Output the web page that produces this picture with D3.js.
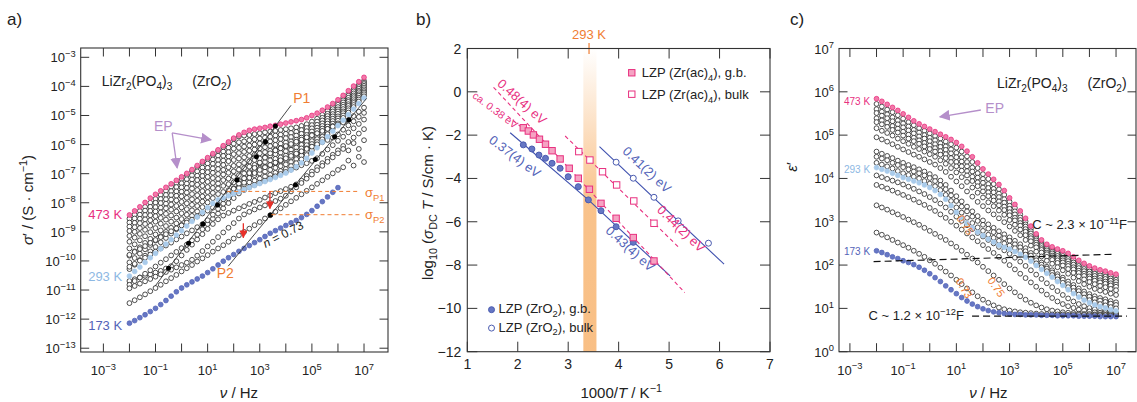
<!DOCTYPE html>
<html><head><meta charset="utf-8">
<script src="https://cdn.jsdelivr.net/npm/d3@7"></script>
<style>
body{margin:0;background:#fff;}
svg{font-family:"Liberation Sans",Arial,sans-serif;}
</style></head><body>
<svg id="fig" width="1137" height="402"></svg>
<script>
// shared frequency grid (log10 of nu / Hz)
var nuLog = [-2,-1.8,-1.6,-1.4,-1.2,-1,-0.8,-0.6,-0.4,-0.2,0,0.2,0.4,0.6,0.8,1,1.2,1.4,1.6,1.8,2,2.2,2.4,2.6,2.8,3,3.2,3.4,3.6,3.8,4,4.2,4.4,4.6,4.8,5,5.2,5.4,5.6,5.8,6,6.2,6.4,6.6,6.8,7];

// panel a: log10 sigma' (S/cm)
var sigma473 = [-8.42,-8.28,-8.14,-7.99,-7.84,-7.71,-7.59,-7.47,-7.35,-7.23,-7.11,-6.99,-6.86,-6.72,-6.58,-6.45,-6.31,-6.18,-6.04,-5.91,-5.78,-5.67,-5.58,-5.51,-5.47,-5.44,-5.41,-5.37,-5.34,-5.30,-5.26,-5.22,-5.18,-5.14,-5.08,-5.00,-4.92,-4.82,-4.71,-4.59,-4.46,-4.31,-4.15,-3.99,-3.84,-3.69];
var sigma293 = [-10.52,-10.36,-10.21,-10.05,-9.89,-9.74,-9.58,-9.42,-9.27,-9.11,-8.96,-8.80,-8.64,-8.49,-8.33,-8.17,-8.02,-7.90,-7.83,-7.76,-7.69,-7.62,-7.55,-7.48,-7.41,-7.34,-7.27,-7.20,-7.13,-7.06,-6.98,-6.88,-6.76,-6.63,-6.47,-6.29,-6.11,-5.92,-5.73,-5.54,-5.35,-5.16,-4.97,-4.78,-4.59,-4.40];
var sigma173 = [-12.14,-12.05,-11.95,-11.85,-11.74,-11.63,-11.50,-11.36,-11.21,-11.06,-10.93,-10.82,-10.72,-10.62,-10.52,-10.40,-10.27,-10.14,-10.01,-9.89,-9.78,-9.67,-9.57,-9.47,-9.37,-9.27,-9.16,-9.05,-8.96,-8.87,-8.78,-8.69,-8.61,-8.51,-8.40,-8.27,-8.12,-7.96,-7.80,-7.64,-7.48,null,null,null,null,null];
var sigmaOther = [
 [-8.55,-8.41,-8.28,-8.14,-8.00,-7.87,-7.73,-7.59,-7.45,-7.32,-7.18,-7.05,-6.91,-6.77,-6.63,-6.50,-6.36,-6.22,-6.09,-5.95,-5.81,-5.72,-5.69,-5.67,-5.64,-5.61,-5.58,-5.55,-5.53,-5.50,-5.47,-5.44,-5.41,-5.36,-5.30,-5.21,-5.11,-4.98,-4.84,-4.70,-4.55,-4.40,-4.25,-4.10,-3.95,-3.81],
 [-8.68,-8.54,-8.41,-8.27,-8.14,-8.00,-7.87,-7.73,-7.60,-7.46,-7.33,-7.19,-7.06,-6.92,-6.79,-6.65,-6.51,-6.38,-6.24,-6.11,-5.97,-5.92,-5.89,-5.85,-5.82,-5.79,-5.76,-5.73,-5.69,-5.66,-5.63,-5.60,-5.56,-5.50,-5.43,-5.33,-5.21,-5.08,-4.94,-4.78,-4.63,-4.48,-4.32,-4.17,-4.02,-3.87],
 [-8.82,-8.69,-8.55,-8.42,-8.28,-8.15,-8.01,-7.88,-7.74,-7.61,-7.47,-7.34,-7.20,-7.07,-6.93,-6.80,-6.66,-6.53,-6.39,-6.26,-6.14,-6.11,-6.07,-6.03,-6.00,-5.96,-5.92,-5.89,-5.85,-5.81,-5.78,-5.74,-5.69,-5.63,-5.54,-5.44,-5.32,-5.17,-5.02,-4.86,-4.71,-4.55,-4.39,-4.24,-4.08,-3.92],
 [-8.97,-8.84,-8.70,-8.57,-8.43,-8.30,-8.17,-8.03,-7.89,-7.76,-7.62,-7.49,-7.35,-7.22,-7.08,-6.95,-6.82,-6.68,-6.55,-6.41,-6.33,-6.29,-6.25,-6.21,-6.17,-6.13,-6.09,-6.05,-6.01,-5.97,-5.93,-5.89,-5.83,-5.76,-5.67,-5.55,-5.42,-5.27,-5.11,-4.95,-4.79,-4.63,-4.47,-4.31,-4.15,-3.98],
 [-9.14,-9.00,-8.87,-8.73,-8.60,-8.46,-8.33,-8.19,-8.06,-7.92,-7.78,-7.65,-7.51,-7.38,-7.24,-7.11,-6.97,-6.84,-6.70,-6.57,-6.53,-6.48,-6.44,-6.39,-6.35,-6.30,-6.26,-6.21,-6.17,-6.12,-6.08,-6.03,-5.97,-5.88,-5.78,-5.66,-5.52,-5.36,-5.19,-5.03,-4.86,-4.70,-4.53,-4.37,-4.20,-4.04],
 [-9.34,-9.20,-9.07,-8.93,-8.79,-8.65,-8.52,-8.38,-8.24,-8.11,-7.97,-7.83,-7.70,-7.56,-7.42,-7.28,-7.15,-7.01,-6.87,-6.78,-6.73,-6.68,-6.63,-6.58,-6.53,-6.48,-6.43,-6.38,-6.33,-6.28,-6.23,-6.18,-6.10,-6.01,-5.90,-5.77,-5.62,-5.45,-5.28,-5.11,-4.94,-4.78,-4.61,-4.44,-4.27,-4.10],
 [-9.57,-9.43,-9.29,-9.15,-9.01,-8.87,-8.72,-8.58,-8.44,-8.30,-8.16,-8.02,-7.88,-7.74,-7.60,-7.46,-7.32,-7.18,-7.03,-6.97,-6.92,-6.86,-6.81,-6.76,-6.70,-6.65,-6.60,-6.54,-6.49,-6.44,-6.38,-6.32,-6.24,-6.13,-6.02,-5.88,-5.71,-5.55,-5.38,-5.19,-5.03,-4.86,-4.67,-4.51,-4.32,-4.16],
 [-9.82,-9.67,-9.53,-9.38,-9.24,-9.09,-8.95,-8.80,-8.65,-8.51,-8.36,-8.22,-8.07,-7.93,-7.78,-7.63,-7.49,-7.34,-7.22,-7.17,-7.11,-7.05,-6.99,-6.94,-6.88,-6.82,-6.76,-6.71,-6.65,-6.59,-6.53,-6.46,-6.37,-6.26,-6.13,-5.98,-5.81,-5.63,-5.46,-5.28,-5.10,-4.92,-4.75,-4.57,-4.39,-4.21],
 [-10.05,-9.90,-9.75,-9.60,-9.45,-9.30,-9.15,-9.00,-8.86,-8.71,-8.56,-8.41,-8.26,-8.11,-7.96,-7.81,-7.66,-7.51,-7.42,-7.36,-7.30,-7.24,-7.18,-7.11,-7.05,-6.99,-6.93,-6.87,-6.80,-6.74,-6.68,-6.60,-6.50,-6.38,-6.24,-6.08,-5.91,-5.73,-5.55,-5.36,-5.18,-5.00,-4.82,-4.64,-4.45,-4.27],
 [-10.28,-10.13,-9.97,-9.82,-9.67,-9.52,-9.36,-9.21,-9.06,-8.91,-8.76,-8.60,-8.45,-8.30,-8.15,-7.99,-7.84,-7.70,-7.63,-7.57,-7.50,-7.43,-7.37,-7.30,-7.24,-7.17,-7.10,-7.04,-6.97,-6.91,-6.84,-6.74,-6.64,-6.51,-6.36,-6.19,-6.01,-5.82,-5.64,-5.45,-5.27,-5.08,-4.90,-4.71,-4.52,-4.34],
 [-11.45,-11.35,-11.25,-11.15,-11.04,-10.93,-10.82,-10.70,-10.59,-10.48,-10.36,-10.25,-10.14,-10.02,-9.91,-9.80,-9.68,-9.57,-9.46,-9.34,-9.23,-9.12,-9.00,-8.89,-8.77,-8.66,-8.54,-8.43,-8.31,-8.19,-8.07,-7.95,-7.83,-7.71,-7.59,-7.47,-7.35,-7.23,-7.11,-6.99,-6.87,-6.78,-6.55,-6.72,-6.42,-6.60],
 [-10.69,-10.63,-10.57,-10.51,-10.46,-10.40,-10.34,-10.26,-10.18,-10.01,-9.81,-9.62,-9.44,-9.26,-9.08,-8.90,-8.73,-8.57,-8.44,-8.35,-8.27,-8.19,-8.12,-8.04,-7.97,-7.90,-7.82,-7.75,-7.67,-7.60,-7.53,-7.45,-7.37,-7.24,-7.08,-6.93,-6.78,-6.64,-6.49,-6.35,-6.20,-6.05,-5.91,-5.76,-5.62,-5.47],
 [-10.82,-10.69,-10.57,-10.44,-10.32,-10.19,-10.06,-9.94,-9.81,-9.69,-9.56,-9.44,-9.29,-9.10,-8.91,-8.73,-8.55,-8.37,-8.19,-8.01,-7.84,-7.68,-7.56,-7.47,-7.39,-7.31,-7.24,-7.16,-7.09,-7.01,-6.94,-6.86,-6.79,-6.71,-6.64,-6.56,-6.47,-6.32,-6.17,-6.02,-5.87,-5.73,-5.58,-5.44,-5.29,-5.14],
 [-10.20,-10.10,-9.99,-9.89,-9.78,-9.68,-9.57,-9.47,-9.37,-9.26,-9.16,-9.05,-8.95,-8.84,-8.74,-8.60,-8.41,-8.21,-8.03,-7.85,-7.67,-7.49,-7.31,-7.14,-6.98,-6.87,-6.78,-6.70,-6.62,-6.54,-6.47,-6.39,-6.31,-6.23,-6.15,-6.07,-5.99,-5.92,-5.84,-5.76,-5.65,-5.49,-5.34,-5.20,-5.05,-4.91],
 [-9.79,-9.69,-9.59,-9.49,-9.38,-9.28,-9.18,-9.08,-8.98,-8.88,-8.78,-8.68,-8.58,-8.47,-8.37,-8.27,-8.17,-8.05,-7.88,-7.70,-7.52,-7.34,-7.16,-6.98,-6.80,-6.62,-6.45,-6.30,-6.20,-6.13,-6.05,-5.98,-5.90,-5.83,-5.75,-5.68,-5.61,-5.53,-5.46,-5.38,-5.31,-5.24,-5.16,-5.02,-4.87,-4.73],
 [-10.94,-10.86,-10.78,-10.70,-10.62,-10.54,-10.46,-10.38,-10.30,-10.22,-10.14,-10.06,-9.96,-9.82,-9.66,-9.50,-9.34,-9.18,-9.02,-8.86,-8.70,-8.54,-8.40,-8.31,-8.23,-8.16,-8.09,-8.01,-7.94,-7.86,-7.76,-7.61,-7.47,-7.32,-7.17,-7.03,-6.88,-6.73,-6.59,-6.44,-6.30,-6.15,-6.20,-5.95,-6.15,-5.85]
];
// characteristic points (log nu, log sigma)
var p1Dots = [[-0.5,-10.25],[0.27,-9.39],[0.82,-8.73],[1.38,-8.08],[2.13,-7.22],[2.87,-6.42],[3.22,-5.9],[3.6,-5.36]];
var p2Dots = [[3.41,-8.42],[4.37,-7.39],[5.13,-6.51],[5.87,-5.73],[6.42,-5.15]];
var p1Line = [[-1.02,-10.87],[4.2,-4.65]];
var p2Line = [[1.79,-10.18],[7.1,-4.41]];

// panel b: (1000/T, log10 sigma_DC T)
var gbZrO2 = [[2.11,-2.45],[2.28,-2.64],[2.42,-2.92],[2.55,-3.07],[2.68,-3.30],[2.84,-3.53],[3.00,-3.92],[3.20,-4.38],[3.40,-4.99],[3.65,-5.49],[3.95,-6.23],[4.29,-6.95],[4.70,-7.85]];
var bulkZrO2 = [[3.95,-3.25],[4.29,-3.99],[4.70,-4.87],[5.18,-5.96],[5.78,-6.99]];
var gbZrAc = [[2.11,-1.66],[2.21,-1.81],[2.31,-1.99],[2.43,-2.19],[2.55,-2.42],[2.68,-2.72],[2.84,-3.10],[3.02,-3.53],[3.20,-3.99],[3.42,-4.50],[3.65,-5.15],[3.95,-5.84],[4.29,-6.73],[4.70,-7.81]];
var bulkZrAc = [[3.21,-2.76],[3.43,-3.15],[3.68,-3.69],[3.96,-4.30],[4.30,-5.04],[4.70,-6.07]];
var fitBlue = [[[1.85,-1.89],[3.40,-4.99]],[[3.40,-4.99],[5.02,-8.5]],[[3.62,-2.53],[6.09,-7.96]]];
var fitPink = [[[1.52,0.21],[5.31,-9.27]],[[1.80,-1.12],[2.15,-1.78]],[[2.94,-2.04],[5.2,-7.2]]];

// panel c: log10 eps'
var eps473 = [5.84,5.78,5.71,5.64,5.57,5.49,5.41,5.33,5.26,5.20,5.14,5.08,5.02,4.96,4.90,4.83,4.74,4.63,4.50,4.36,4.22,4.10,3.98,3.86,3.72,3.55,3.40,3.25,3.08,2.90,2.72,2.58,2.48,2.42,2.37,2.33,2.27,2.19,2.11,2.04,1.98,1.93,1.89,1.86,1.82,1.79];
var eps293 = [4.25,4.21,4.17,4.12,4.07,4.02,3.98,3.94,3.90,3.85,3.79,3.72,3.63,3.52,3.37,3.22,3.09,2.97,2.86,2.76,2.68,2.60,2.53,2.46,2.41,2.37,2.31,2.25,2.18,2.09,1.99,1.90,1.81,1.72,1.62,1.53,1.43,1.34,1.26,1.19,1.13,1.08,1.04,1.01,0.97,0.94];
var eps173 = [2.33,2.29,2.24,2.19,2.15,2.10,2.06,2.01,1.95,1.88,1.80,1.71,1.62,1.52,1.43,1.34,1.25,1.17,1.10,1.04,0.99,0.95,0.92,0.90,0.88,0.87,0.86,0.86,0.85,0.85,0.85,0.84,0.84,0.84,0.83,0.83,0.83,0.83,0.82,0.82,0.82,0.82,0.81,0.81,0.81,0.81];
var epsOther = [
 [5.72,5.66,5.59,5.53,5.46,5.38,5.30,5.23,5.16,5.10,5.04,4.98,4.92,4.85,4.79,4.71,4.62,4.51,4.38,4.24,4.10,3.99,3.87,3.75,3.62,3.46,3.32,3.17,3.01,2.84,2.67,2.53,2.43,2.37,2.31,2.27,2.21,2.13,2.05,1.98,1.92,1.87,1.83,1.80,1.76,1.73],
 [5.60,5.54,5.48,5.41,5.34,5.27,5.20,5.12,5.06,5.00,4.94,4.88,4.81,4.74,4.67,4.59,4.49,4.38,4.25,4.12,3.99,3.87,3.76,3.65,3.52,3.37,3.24,3.10,2.94,2.78,2.61,2.48,2.38,2.31,2.26,2.21,2.14,2.06,1.98,1.91,1.85,1.80,1.76,1.73,1.69,1.66],
 [5.51,5.45,5.39,5.32,5.25,5.18,5.11,5.04,4.97,4.92,4.86,4.79,4.73,4.66,4.58,4.49,4.39,4.28,4.16,4.02,3.90,3.78,3.68,3.57,3.44,3.30,3.17,3.04,2.89,2.73,2.57,2.44,2.34,2.27,2.21,2.16,2.09,2.01,1.93,1.86,1.80,1.75,1.71,1.68,1.64,1.61],
 [5.39,5.34,5.28,5.21,5.15,5.08,5.01,4.94,4.88,4.82,4.76,4.70,4.63,4.56,4.47,4.38,4.28,4.17,4.04,3.91,3.79,3.68,3.57,3.47,3.35,3.22,3.09,2.97,2.83,2.67,2.52,2.39,2.29,2.22,2.16,2.11,2.03,1.95,1.87,1.80,1.74,1.69,1.65,1.62,1.58,1.55],
 [5.30,5.25,5.19,5.12,5.06,4.99,4.92,4.86,4.80,4.74,4.68,4.62,4.55,4.47,4.38,4.28,4.18,4.07,3.94,3.82,3.70,3.59,3.49,3.38,3.27,3.15,3.03,2.91,2.77,2.62,2.47,2.35,2.25,2.18,2.11,2.06,1.98,1.90,1.82,1.75,1.69,1.64,1.60,1.57,1.53,1.50],
 [5.16,5.10,5.05,4.99,4.92,4.86,4.80,4.73,4.68,4.62,4.56,4.50,4.42,4.34,4.24,4.14,4.03,3.92,3.79,3.67,3.56,3.45,3.36,3.26,3.16,3.04,2.93,2.82,2.69,2.55,2.41,2.29,2.19,2.12,2.05,1.99,1.91,1.82,1.74,1.67,1.61,1.56,1.52,1.49,1.45,1.42],
 [4.95,4.90,4.85,4.79,4.73,4.67,4.61,4.55,4.50,4.44,4.38,4.32,4.24,4.15,4.04,3.93,3.82,3.70,3.58,3.46,3.36,3.26,3.17,3.08,2.99,2.89,2.79,2.69,2.58,2.45,2.31,2.20,2.10,2.03,1.95,1.88,1.80,1.71,1.63,1.56,1.50,1.45,1.41,1.38,1.34,1.31],
 [4.62,4.57,4.52,4.47,4.41,4.36,4.31,4.26,4.21,4.16,4.10,4.03,3.95,3.85,3.72,3.59,3.47,3.35,3.24,3.13,3.03,2.94,2.86,2.78,2.71,2.64,2.56,2.48,2.39,2.28,2.16,2.06,1.96,1.88,1.79,1.71,1.62,1.54,1.46,1.39,1.33,1.28,1.24,1.21,1.17,1.14],
 [4.50,4.46,4.42,4.36,4.31,4.26,4.21,4.16,4.12,4.07,4.01,3.94,3.85,3.75,3.61,3.48,3.35,3.24,3.12,3.02,2.93,2.84,2.76,2.68,2.62,2.56,2.48,2.41,2.32,2.22,2.11,2.01,1.92,1.83,1.74,1.66,1.56,1.48,1.40,1.33,1.27,1.22,1.18,1.15,1.11,1.08],
 [4.36,4.32,4.28,4.23,4.17,4.12,4.08,4.04,4.00,3.94,3.88,3.82,3.73,3.62,3.48,3.33,3.21,3.09,2.97,2.87,2.79,2.70,2.63,2.56,2.50,2.45,2.39,2.32,2.24,2.15,2.04,1.95,1.86,1.77,1.67,1.59,1.49,1.40,1.32,1.25,1.19,1.14,1.10,1.07,1.03,1.00],
 [4.07,4.03,3.99,3.95,3.91,3.86,3.81,3.76,3.70,3.64,3.57,3.50,3.42,3.33,3.23,3.12,3.02,2.92,2.83,2.74,2.66,2.58,2.50,2.42,2.34,2.26,2.17,2.08,1.98,1.88,1.78,1.68,1.58,1.49,1.40,1.31,1.23,1.16,1.10,1.05,1.01,0.98,0.95,0.93,0.91,0.90],
 [3.85,3.81,3.77,3.72,3.67,3.62,3.57,3.51,3.45,3.39,3.32,3.25,3.17,3.09,3.00,2.91,2.82,2.73,2.64,2.55,2.46,2.37,2.28,2.19,2.10,2.00,1.90,1.80,1.70,1.60,1.50,1.41,1.32,1.24,1.16,1.10,1.05,1.01,0.97,0.95,0.93,0.91,0.90,0.89,0.88,0.87],
 [3.38,3.33,3.28,3.22,3.17,3.11,3.05,2.99,2.93,2.86,2.79,2.72,2.65,2.58,2.50,2.42,2.33,2.24,2.15,2.06,1.96,1.86,1.76,1.66,1.56,1.46,1.37,1.28,1.20,1.13,1.07,1.02,0.98,0.95,0.93,0.91,0.90,0.89,0.88,0.87,0.87,0.86,0.86,0.85,0.85,0.85],
 [2.75,2.70,2.64,2.58,2.52,2.46,2.40,2.33,2.26,2.19,2.11,2.03,1.94,1.85,1.76,1.66,1.56,1.46,1.37,1.28,1.20,1.13,1.07,1.02,0.98,0.95,0.93,0.91,0.90,0.89,0.88,0.87,0.87,0.86,0.86,0.86,0.85,0.85,0.85,0.85,0.84,0.84,0.84,0.84,0.83,0.83]
];

var decA = [-3,-2,-1,0,1,2,3,4,5,6,7];
var decAy = [-13,-12,-11,-10,-9,-8,-7,-6,-5,-4,-3];
var labA = [-3,-1,1,3,5,7];
var decCy = [0,1,2,3,4,5,6,7];
var ticksBx = [1,2,3,4,5,6,7];
var ticksBy = [-12,-10,-8,-6,-4,-2,0,2];

var PINK = '#e8307f', PINKF = '#f27aa9', LBLUE = '#8db8e3', LBLUEF = '#a9cbeb',
    BLUE = '#5363b8', BLUEF = '#6677c4', ORANGE = '#f07d32', PURPLE = '#b58fca', RED = '#e8302a';

var svg = d3.select('#fig');
var defs = svg.append('defs');
function marker(id, color, size) {
  defs.append('marker').attr('id', id).attr('viewBox', '0 0 10 10').attr('refX', 9).attr('refY', 5)
    .attr('markerWidth', size).attr('markerHeight', size).attr('markerUnits', 'userSpaceOnUse')
    .attr('orient', 'auto').append('path').attr('d', 'M0,0 L10,5 L0,10 z').attr('fill', color);
}
marker('arrP', PURPLE, 11);
marker('arrR', RED, 8);

function p10(v) { return Math.pow(10, v); }

// parts: [text, kind, dx]; kind '' | 'sub' | 'sup' | 'i'
function rich(text, parts, fs) {
  var cur = 0;
  parts.forEach(function(p) {
    var ts = text.append('tspan').text(p[0]);
    var tgt = p[1] === 'sub' ? fs * 0.28 : p[1] === 'sup' ? -fs * 0.42 : 0;
    if (tgt !== cur) ts.attr('dy', tgt - cur);
    cur = tgt;
    if (p[2]) ts.attr('dx', p[2]);
    if (p[1] === 'sub' || p[1] === 'sup') ts.attr('font-size', fs * 0.72);
    if (p[1] === 'i') ts.attr('font-style', 'italic');
  });
  return text;
}
function expStr(e) { return e < 0 ? '\u2212' + (-e) : '' + e; }

function frame(g, xs, ys) {
  var xr = xs.range(), yr = ys.range();
  g.append('rect').attr('x', xr[0]).attr('y', yr[1]).attr('width', xr[1] - xr[0]).attr('height', yr[0] - yr[1])
    .attr('fill', 'none').attr('stroke', '#333').attr('stroke-width', 1.1);
}
function ticksX(g, xs, ys, vals, len) {
  var yr = ys.range();
  vals.forEach(function(v) {
    var x = xs(v);
    g.append('line').attr('x1', x).attr('x2', x).attr('y1', yr[0]).attr('y2', yr[0] - len).attr('stroke', '#333');
    g.append('line').attr('x1', x).attr('x2', x).attr('y1', yr[1]).attr('y2', yr[1] + len).attr('stroke', '#333');
  });
}
function ticksY(g, xs, ys, vals, len) {
  var xr = xs.range();
  vals.forEach(function(v) {
    var y = ys(v);
    g.append('line').attr('x1', xr[0]).attr('x2', xr[0] + len).attr('y1', y).attr('y2', y).attr('stroke', '#333');
    g.append('line').attr('x1', xr[1]).attr('x2', xr[1] - len).attr('y1', y).attr('y2', y).attr('stroke', '#333');
  });
}
function logLabelsX(g, xs, ys, exps) {
  exps.forEach(function(e) {
    var t = g.append('text').attr('x', xs(p10(e))).attr('y', ys.range()[0] + 23).attr('text-anchor', 'middle')
      .attr('font-size', 13).attr('fill', '#222');
    rich(t, [['10', ''], [expStr(e), 'sup']], 13);
  });
}
function logLabelsY(g, xs, ys, exps) {
  exps.forEach(function(e) {
    var t = g.append('text').attr('x', xs.range()[0] - 5).attr('y', ys(p10(e)) + 5).attr('text-anchor', 'end')
      .attr('font-size', 13).attr('fill', '#222');
    rich(t, [['10', ''], [expStr(e), 'sup']], 13);
  });
}
function series(g, xs, ys, arr, fill, stroke) {
  var data = nuLog.map(function(v, i) { return [v, arr[i]]; }).filter(function(d) { return d[1] !== null; });
  g.append('g').selectAll('circle').data(data).enter().append('circle')
    .attr('cx', function(d) { return xs(p10(d[0])); })
    .attr('cy', function(d) { return ys(p10(d[1])); })
    .attr('r', 2.4).attr('fill', fill).attr('stroke', stroke).attr('stroke-width', 0.8);
}
function label(g, x, y, parts, fs, color, anchor, rot) {
  var t = g.append('text').attr('font-size', fs).attr('fill', color).attr('text-anchor', anchor || 'start');
  if (rot) t.attr('transform', 'translate(' + x + ',' + y + ') rotate(' + rot + ')');
  else t.attr('x', x).attr('y', y);
  return rich(t, parts, fs);
}
var formula = [['LiZr', ''], ['2', 'sub'], ['(PO', ''], ['4', 'sub'], [')', ''], ['3', 'sub'], ['(ZrO', '', 20], ['2', 'sub'], [')', '']];

// ---------------- panel a ----------------
var gA = svg.append('g');
var xA = d3.scaleLog().domain([p10(-3.87), p10(7.92)]).range([80.7, 388]);
var yA = d3.scaleLog().domain([p10(-13.13), p10(-2.68)]).range([352, 48]);
function ax(v) { return xA(p10(v)); }
function ay(v) { return yA(p10(v)); }

sigmaOther.forEach(function(s) { series(gA, xA, yA, s, '#fff', '#222'); });
series(gA, xA, yA, sigma173, BLUEF, BLUE);
series(gA, xA, yA, sigma293, LBLUEF, LBLUEF);
series(gA, xA, yA, sigma473, PINKF, PINK);

[p1Line, p2Line].forEach(function(l) {
  gA.append('line').attr('x1', ax(l[0][0])).attr('y1', ay(l[0][1])).attr('x2', ax(l[1][0])).attr('y2', ay(l[1][1]))
    .attr('stroke', '#333').attr('stroke-width', 0.9);
});
gA.selectAll('circle.pd').data(p1Dots.concat(p2Dots)).enter().append('circle').attr('class', 'pd')
  .attr('cx', function(d) { return ax(d[0]); }).attr('cy', function(d) { return ay(d[1]); })
  .attr('r', 2.5).attr('fill', '#000');

// sigma_P dashed levels
[[1.75, -7.61], [3.45, -8.41]].forEach(function(d) {
  gA.append('line').attr('x1', ax(d[0])).attr('x2', ax(6.84)).attr('y1', ay(d[1])).attr('y2', ay(d[1]))
    .attr('stroke', ORANGE).attr('stroke-dasharray', '4,3').attr('stroke-width', 1);
});
label(gA, ax(7.04), ay(-7.80), [['\u03c3', ''], ['P1', 'sub']], 13, ORANGE);
label(gA, ax(7.04), ay(-8.56), [['\u03c3', ''], ['P2', 'sub']], 13, ORANGE);
[[3.39, -7.60, -8.20], [2.37, -8.70, -9.20]].forEach(function(d) {
  gA.append('line').attr('x1', ax(d[0])).attr('x2', ax(d[0])).attr('y1', ay(d[1])).attr('y2', ay(d[2]))
    .attr('stroke', RED).attr('stroke-width', 1.3).attr('marker-end', 'url(#arrR)');
});
label(gA, ax(4.28), ay(-4.57), [['P1', '']], 14, ORANGE);
label(gA, ax(1.35), ay(-10.58), [['P2', '']], 14, ORANGE);
label(gA, ax(3.97), ay(-9.21), [['n', 'i'], [' = 0.73', '']], 12, '#222', 'middle', -27);

label(gA, ax(-1.06), ay(-5.53), [['EP', '']], 14, PURPLE);
[[1.13, -5.84], [-0.17, -6.80]].forEach(function(h) {
  gA.append('line').attr('x1', ax(-0.36)).attr('y1', ay(-5.60)).attr('x2', ax(h[0])).attr('y2', ay(h[1]))
    .attr('stroke', PURPLE).attr('stroke-width', 1.3).attr('marker-end', 'url(#arrP)');
});
label(gA, ax(-3.06), ay(-3.99), formula, 14, '#222');
label(gA, ax(-2.28), ay(-8.55), [['473 K', '']], 13, PINK, 'end');
label(gA, ax(-2.28), ay(-10.68), [['293 K', '']], 13, LBLUE, 'end');
label(gA, ax(-2.28), ay(-12.37), [['173 K', '']], 13, BLUE, 'end');

frame(gA, xA, yA);
ticksX(gA, xA, yA, decA.map(p10), 8.5);
ticksY(gA, xA, yA, decAy.map(p10), 8.5);
logLabelsX(gA, xA, yA, labA);
logLabelsY(gA, xA, yA, decAy);
label(gA, 33, 200, [['\u03c3', 'i'], ['\u2032 / (S \u00b7 cm', ''], ['\u22121', 'sup'], [')', '']], 15, '#222', 'middle', -90);
label(gA, ax(2.2), 398, [['\u03bd', 'i'], [' / Hz', '']], 15, '#222', 'middle');
label(gA, 7, 25, [['a)', '']], 17, '#222');

// ---------------- panel b ----------------
var gB = svg.append('g');
var xB = d3.scaleLinear().domain([1, 7]).range([467.3, 770]);
var yB = d3.scaleLinear().domain([-12, 2]).range([351.7, 48.5]);
var grad = defs.append('linearGradient').attr('id', 'band').attr('x1', 0).attr('x2', 0).attr('y1', 0).attr('y2', 1);
grad.append('stop').attr('offset', '0%').attr('stop-color', '#f8b877').attr('stop-opacity', 0);
grad.append('stop').attr('offset', '50%').attr('stop-color', '#f8b877').attr('stop-opacity', 0.85);
grad.append('stop').attr('offset', '100%').attr('stop-color', '#f8b877').attr('stop-opacity', 0.9);
gB.append('rect').attr('x', xB(3.30)).attr('width', xB(3.56) - xB(3.30)).attr('y', yB(2)).attr('height', yB(-12) - yB(2))
  .attr('fill', 'url(#band)');

fitBlue.forEach(function(l) {
  gB.append('line').attr('x1', xB(l[0][0])).attr('y1', yB(l[0][1])).attr('x2', xB(l[1][0])).attr('y2', yB(l[1][1]))
    .attr('stroke', '#3d4fae').attr('stroke-width', 1.1);
});
fitPink.forEach(function(l) {
  gB.append('line').attr('x1', xB(l[0][0])).attr('y1', yB(l[0][1])).attr('x2', xB(l[1][0])).attr('y2', yB(l[1][1]))
    .attr('stroke', PINK).attr('stroke-width', 1.1).attr('stroke-dasharray', '4,3');
});
function squares(data, fill) {
  gB.append('g').selectAll('rect').data(data).enter().append('rect')
    .attr('x', function(d) { return xB(d[0]) - 3.2; }).attr('y', function(d) { return yB(d[1]) - 3.2; })
    .attr('width', 6.4).attr('height', 6.4).attr('fill', fill).attr('stroke', PINK).attr('stroke-width', 1);
}
function dots(data, fill) {
  gB.append('g').selectAll('circle').data(data).enter().append('circle')
    .attr('cx', function(d) { return xB(d[0]); }).attr('cy', function(d) { return yB(d[1]); })
    .attr('r', 3).attr('fill', fill).attr('stroke', '#4a5bb0').attr('stroke-width', 1);
}
dots(gbZrO2, BLUEF);
dots(bulkZrO2, '#fff');
squares(gbZrAc, '#f5a3c3');
squares(bulkZrAc, '#fff');

label(gB, xB(2.025), yB(-0.61), [['0.48(4) eV', '']], 13, PINK, 'middle', 42);
label(gB, xB(1.51), yB(-0.98), [['ca. 0.38 eV', '']], 10.5, PINK, 'middle', 37);
label(gB, xB(1.89), yB(-3.15), [['0.37(4) eV', '']], 13, BLUE, 'middle', 37);
label(gB, xB(4.50), yB(-3.75), [['0.41(2) eV', '']], 13, BLUE, 'middle', 43);
label(gB, xB(4.17), yB(-7.40), [['0.43(4) eV', '']], 13, BLUE, 'middle', 42);
label(gB, xB(5.18), yB(-6.47), [['0.44(2) eV', '']], 13, PINK, 'middle', 44);

// legends
squares([[4.26, 0.88]], '#f5a3c3');
squares([[4.26, -0.11]], '#fff');
label(gB, xB(4.46), yB(0.68), [['LZP (Zr(ac)', ''], ['4', 'sub'], ['), g.b.', '']], 13, '#222');
label(gB, xB(4.46), yB(-0.33), [['LZP (Zr(ac)', ''], ['4', 'sub'], ['), bulk', '']], 13, '#222');
dots([[1.48, -10.06]], BLUEF);
dots([[1.48, -10.91]], '#fff');
label(gB, xB(1.62), yB(-10.23), [['LZP (ZrO', ''], ['2', 'sub'], ['), g.b.', '']], 13, '#222');
label(gB, xB(1.62), yB(-11.08), [['LZP (ZrO', ''], ['2', 'sub'], ['), bulk', '']], 13, '#222');

gB.append('line').attr('x1', xB(1000 / 293)).attr('x2', xB(1000 / 293)).attr('y1', 43).attr('y2', 54)
  .attr('stroke', ORANGE).attr('stroke-width', 1.2);
label(gB, xB(1000 / 293), 39, [['293 K', '']], 13, ORANGE, 'middle');

frame(gB, xB, yB);
ticksX(gB, xB, yB, ticksBx, 10);
ticksY(gB, xB, yB, ticksBy, 10);
ticksBx.forEach(function(v) {
  gB.append('text').attr('x', xB(v)).attr('y', 369).attr('text-anchor', 'middle').attr('font-size', 14).attr('fill', '#222').text(v);
});
ticksBy.forEach(function(v) {
  gB.append('text').attr('x', xB(1) - 6).attr('y', yB(v) + 5).attr('text-anchor', 'end').attr('font-size', 14).attr('fill', '#222')
    .text(v < 0 ? '\u2212' + (-v) : v);
});
label(gB, 433, 203, [['log', ''], ['10', 'sub'], [' (', ''], ['\u03c3', 'i'], ['DC', 'sub'], [' ', ''], ['T', 'i'], [' / S/cm \u00b7 K)', '']], 15, '#222', 'middle', -90);
label(gB, xB(4.05), 398, [['1000/', ''], ['T', 'i'], [' / K', ''], ['\u22121', 'sup']], 15, '#222', 'middle');
label(gB, 416, 25, [['b)', '']], 17, '#222');

// ---------------- panel c ----------------
var gC = svg.append('g');
var xC = d3.scaleLog().domain([p10(-3.41), p10(7.75)]).range([839, 1136]);
var yC = d3.scaleLog().domain([1, 1e7]).range([351.7, 48.5]);
function cx(v) { return xC(p10(v)); }
function cy(v) { return yC(p10(v)); }

epsOther.forEach(function(s) { series(gC, xC, yC, s, '#fff', '#222'); });
series(gC, xC, yC, eps173, BLUEF, BLUE);
series(gC, xC, yC, eps293, LBLUEF, LBLUEF);
series(gC, xC, yC, eps473, PINKF, PINK);

[[[-2.11, 2.08], [6.91, 2.25]], [[1.59, 0.82], [7.41, 0.82]]].forEach(function(l) {
  gC.append('line').attr('x1', cx(l[0][0])).attr('y1', cy(l[0][1])).attr('x2', cx(l[1][0])).attr('y2', cy(l[1][1]))
    .attr('stroke', '#111').attr('stroke-width', 1.2).attr('stroke-dasharray', '7,4');
});
label(gC, cx(7.41), cy(2.83), [['C ~ 2.3 \u00d7 10', ''], ['\u221211', 'sup'], ['F', '']], 13, '#222', 'end');
label(gC, cx(-2.30), cy(0.73), [['C ~ 1.2 \u00d7 10', ''], ['\u221212', 'sup'], ['F', '']], 13, '#222');
label(gC, cx(1.21), cy(2.88), [['0.75', '']], 11, ORANGE, 'middle', 58);
label(gC, cx(1.17), cy(1.42), [['0.73', '']], 11, ORANGE, 'middle', 58);
label(gC, cx(2.38), cy(1.44), [['0.75', '']], 11, ORANGE, 'middle', 55);

label(gC, cx(2.09), cy(5.51), [['EP', '']], 14, PURPLE);
gC.append('line').attr('x1', cx(1.92)).attr('y1', cy(5.58)).attr('x2', cx(0.38)).attr('y2', cy(5.42))
  .attr('stroke', PURPLE).attr('stroke-width', 1.3).attr('marker-end', 'url(#arrP)');
label(gC, cx(2.53), cy(6.09), formula, 14, '#222');
label(gC, cx(-2.24), cy(5.70), [['473 K', '']], 10, PINK, 'end');
label(gC, cx(-2.24), cy(4.13), [['293 K', '']], 10, LBLUE, 'end');
label(gC, cx(-2.24), cy(2.23), [['173 K', '']], 10, BLUE, 'end');

frame(gC, xC, yC);
ticksX(gC, xC, yC, decA.map(p10), 8.5);
ticksY(gC, xC, yC, decCy.map(p10), 8.5);
logLabelsX(gC, xC, yC, labA);
logLabelsY(gC, xC, yC, decCy);
label(gC, 797, 167, [['\u03b5', 'i'], ['\u2032', '']], 15, '#222', 'middle', -90);
label(gC, cx(2.2), 398, [['\u03bd', 'i'], [' / Hz', '']], 15, '#222', 'middle');
label(gC, 790, 25, [['c)', '']], 17, '#222');
</script></body></html>
